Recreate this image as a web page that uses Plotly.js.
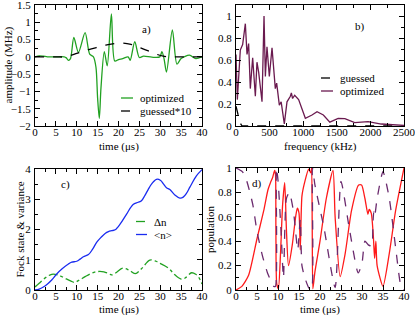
<!DOCTYPE html>
<html><head><meta charset="utf-8">
<script src="https://cdn.plot.ly/plotly-3.0.1.min.js"></script>
<style>html,body{margin:0;padding:0;background:#fff;}#plot{width:415px;height:315px;}</style>
</head><body><div id="plot"></div>
<script>
// Panel a: amplitude
const tA = [0,1,2,3,5,7,7.5,8,8.5,9.3,10.4,12,13.1,14,14.6,15.0,15.4,15.8,16.6,17.3,18.3,19.1,20,21,22.3,22.8,23.9,25,26,28,29.9,30.4,30.9,31.5,32.9,34,35,37,38.5,40];
const optA = [0,0.03,0.02,0,0,0,-0.03,-0.1,-0.05,0.56,0.13,0.7,0.08,0,-0.3,-1.2,-1.78,-0.9,0.15,-0.26,1.24,-0.12,-0.08,-0.05,0,-0.1,0.44,-0.02,0.02,-0.01,0,0.15,-0.05,-0.44,0.78,-0.21,-0.05,0.05,-0.05,0];
const tG = [0,5,7,8.5,10,12,14.7,17,20.5,23,25,27,29,30.7,32,33,35,40];
const guessA = [0,0,0,0.04,0.1,0.18,0.27,0.34,0.4,0.36,0.27,0.18,0.08,0.02,0.005,0,0,0];

// Panel b: spectrum
const fB = [0,20,64,99,139,150,164,188,213,248,288,312,337,387,417,437,461,496,536,585,605,645,672,719,759,809,824,842,873,932,982,1032,1131,1206,1300,1396,1520,1620,1767,1965,2163,2360,2500];
const optB = [0.65,0.24,0.69,0.74,0.93,0.84,0.65,0.75,0.34,0.62,0.27,0.58,0.49,0.22,1.0,0.45,0.72,0.45,0.71,0.34,0.39,0.19,0.22,0.02,0.22,0.27,0.30,0.25,0.28,0.24,0.15,0.07,0.10,0.13,0.10,0.035,0.07,0.067,0.03,0.04,0.018,0.01,0.005];
const fG = [0,30,60,90,2500];
const guessB = [0.18,0.1,0.03,0,0];

// Panel c: Fock state & variance
const tN = [0,1,2,3,4,5.2,6.5,8,8.8,10,10.8,11.6,12.8,13.8,14.8,15.8,16.8,17.6,18.4,19.2,20.5,21.9,23.5,24.7,25.5,26.3,27.1,27.9,29.1,30.1,30.8,31.5,32.3,33.5,34.7,35.5,36.3,37.1,38.7,40];
const meanN = [0,0.03,0.1,0.2,0.33,0.53,0.7,0.86,0.92,0.95,1.02,1.1,1.17,1.35,1.58,1.74,1.87,1.93,1.96,1.99,2.2,2.5,2.83,2.9,2.95,3.12,3.32,3.5,3.66,3.62,3.5,3.38,3.32,3.14,3.04,3.07,3.2,3.4,3.78,3.98];
const tD = [0,1,2,3,4,5.5,7,8.5,9.5,10.5,12,13.5,15,16.5,18,18.5,19.5,21,22.5,24,25.5,27.5,29,30,32,33.5,35,36,37.5,38.5,39.3,40];
const deltaN = [0.1,0.22,0.35,0.45,0.52,0.5,0.4,0.3,0.25,0.32,0.44,0.55,0.61,0.6,0.52,0.5,0.58,0.72,0.66,0.54,0.7,0.99,0.95,0.88,0.72,0.5,0.36,0.4,0.57,0.52,0.4,0.2];

// Panel d: populations
const tR = [0,1.4,3,5,6.6,7.6,8.2,8.7,9.2,9.4,9.5,9.7,10.1,10.6,11.1,11.6,12.0,12.5,13.4,14.2,14.6,15.0,15.3,15.7,16.4,17.3,17.8,18.0,18.15,18.3,18.8,20,21.5,23.1,23.6,24.8,26,27.5,29.2,29.9,30.7,31.4,31.7,32.2,32.7,33.0,33.3,33.6,35,36.5,38,40];
const popR = [0,0.03,0.12,0.42,0.65,0.82,0.88,0.92,0.98,0.95,0.5,0.05,0.01,0.3,0.7,0.88,0.5,0.2,0.37,0.6,0.67,0.63,0.33,0.77,0.89,0.99,0.96,1.0,0.5,0.01,0.15,0.4,0.75,0.98,0.6,0.11,0.3,0.65,0.86,0.86,0.75,0.62,0.66,0.63,0.44,0.26,0.4,0.2,0.03,0.3,0.65,1.0];
const tP = [0,1.5,2.5,4,5,6.3,7.5,8.5,9.0,9.4,9.6,10,10.7,11.3,12.0,12.7,13.7,14.7,15.3,15.7,16.4,17.3,18.0,18.2,18.8,21,23.6,25,27,29.1,30,30.7,31.5,32.3,32.6,32.8,33.0,33.6,35,36.5,38,39.3,40];
const popP = [1.0,0.97,0.9,0.7,0.48,0.28,0.14,0.06,0.03,0.03,1.0,0.9,0.5,0.1,0.75,0.8,0.64,0.33,0.58,0.2,0.1,0.02,0.0,1.0,0.86,0.5,0.02,0.89,0.5,0.14,0.22,0.4,0.37,0.36,0.55,0.64,0.6,0.75,0.97,0.75,0.35,0.03,0];

// Text labels
const legA = ['optimized', 'guessed*10'];
const legB = ['guessed', 'optimized'];
const legC = ['Δn', '&lt;n&gt;'];
const panelLabels = ['a)', 'b)', 'c)', 'd)'];

const FONT = 'Liberation Serif, Times New Roman, serif';
const W = 415, H = 315;
const px = v => v / W;
const py = v => 1 - v / H;
const dx = (a,b)=>[a/W, b/W];
const dy = (top,bot)=>[1-bot/H, 1-top/H];

function ax(domain, range, dtick, minorDtick, anchor, standoff){
  return {
    domain: domain, range: range, anchor: anchor,
    showline: true, linecolor: '#000', linewidth: 1, mirror: 'ticks',
    ticks: 'inside', ticklen: 5, tickwidth: 1, tickcolor: '#000',
    dtick: dtick, tick0: 0, showgrid: false, zeroline: false,
    minor: {ticks: 'inside', ticklen: 3, tickwidth: 1, tickcolor: '#000', dtick: minorDtick, showgrid: false},
    tickfont: {family: FONT, size: 11, color: '#000'},
    ticklabelstandoff: standoff, ticklabeloverflow: 'allow'
  };
}

const green = '#21a121', blue = '#1a2cf0', red = '#ff1a1a', purple = '#6a1a4f', dpurple = '#6b2a6e';
const LW = 1.3;

const data = [
  {x: tA, y: optA, xaxis:'x', yaxis:'y', mode:'lines', line:{color:green, width:LW, shape:'spline', smoothing:0.8}},
  {x: tG, y: guessA, xaxis:'x', yaxis:'y', mode:'lines', line:{color:'#000', width:LW, dash:'dash', shape:'spline'}},
  {x: fG, y: guessB, xaxis:'x2', yaxis:'y2', mode:'lines', line:{color:'#000', width:LW, dash:'dash'}},
  {x: fB, y: optB, xaxis:'x2', yaxis:'y2', mode:'lines', line:{color:purple, width:LW}},
  {x: tD, y: deltaN, xaxis:'x3', yaxis:'y3', mode:'lines', line:{color:green, width:LW, dash:'dashdot', shape:'spline'}},
  {x: tN, y: meanN, xaxis:'x3', yaxis:'y3', mode:'lines', line:{color:blue, width:LW, shape:'spline'}},
  {x: tR, y: popR, xaxis:'x4', yaxis:'y4', mode:'lines', line:{color:red, width:LW, shape:'spline', smoothing:0.6}},
  {x: tP, y: popP, xaxis:'x4', yaxis:'y4', mode:'lines', line:{color:dpurple, width:LW, dash:'dash', shape:'spline', smoothing:0.6}}
];

const tf = {family: FONT, size: 11, color:'#000'};
const ann = [];
const shapes = [];
function txt(x, y, text, opts){
  ann.push(Object.assign({xref:'paper', yref:'paper', x:px(x), y:py(y), text:text, showarrow:false, font:tf,
                          xanchor:'center', yanchor:'middle'}, opts||{}));
}
// axis titles
txt(8, 65.5, 'amplitude (MHz)', {textangle:-90});
txt(118.5, 146, 'time (μs)');
txt(320, 146, 'frequency (kHz)');
txt(19, 229.5, 'Fock state &amp; variance', {textangle:-90});
txt(210, 229, 'population', {textangle:-90});
txt(118.5, 309, 'time (μs)');
txt(320, 309, 'time (μs)');
// legends (key swatch + text)
function legItem(x0, x1, y, color, dash, label){
  shapes.push({type:'line', xref:'paper', yref:'paper', x0:px(x0), x1:px(x1), y0:py(y), y1:py(y), line:{color:color, width:LW, dash:dash}});
  txt(x1 + 5, y, label, {xanchor:'left', yanchor:'middle'});
}
legItem(121, 133, 98, green, 'solid', legA[0]);
legItem(121, 133, 111, '#000', 'dash', legA[1]);
legItem(321, 333, 78, '#000', 'dash', legB[0]);
legItem(321, 333, 91, purple, 'solid', legB[1]);
legItem(136, 147, 221.5, green, 'dashdot', legC[0]);
legItem(136, 147, 234.5, blue, 'solid', legC[1]);
// panel labels
ann.push({xref:'x', yref:'y', x:26.7, y:0.8, text:panelLabels[0], showarrow:false, font:tf});
ann.push({xref:'x2', yref:'y2', x:1840, y:0.9, text:panelLabels[1], showarrow:false, font:tf});
ann.push({xref:'x3', yref:'y3', x:7.2, y:3.5, text:panelLabels[2], showarrow:false, font:tf});
ann.push({xref:'x4', yref:'y4', x:4.9, y:0.87, text:panelLabels[3], showarrow:false, font:tf});

const layout = {
  width: W, height: H, margin:{l:0,r:0,t:0,b:0},
  paper_bgcolor:'#fff', plot_bgcolor:'#fff',
  font: tf, showlegend: false,
  xaxis: ax(dx(35,202), [0,40], 5, 2.5, 'y', -4),
  yaxis: ax(dy(5,126), [-2,1.5], 0.5, 0.25, 'x', 1),
  xaxis2: ax(dx(236,404), [0,2500], 500, 250, 'y2', -4),
  yaxis2: ax(dy(5,126), [0,1.1], 0.2, 0.1, 'x2', 1),
  xaxis3: ax(dx(35,202), [0,40], 5, 2.5, 'y3', -4),
  yaxis3: ax(dy(169,290), [0,4], 1, 0.5, 'x3', 1),
  xaxis4: ax(dx(236,404), [0,40], 5, 2.5, 'y4', -4),
  yaxis4: ax(dy(168,290), [0,1], 0.2, 0.1, 'x4', 1),
  annotations: ann,
  shapes: shapes
};

Plotly.newPlot('plot', data, layout, {staticPlot:true, displayModeBar:false});
</script></body></html>
